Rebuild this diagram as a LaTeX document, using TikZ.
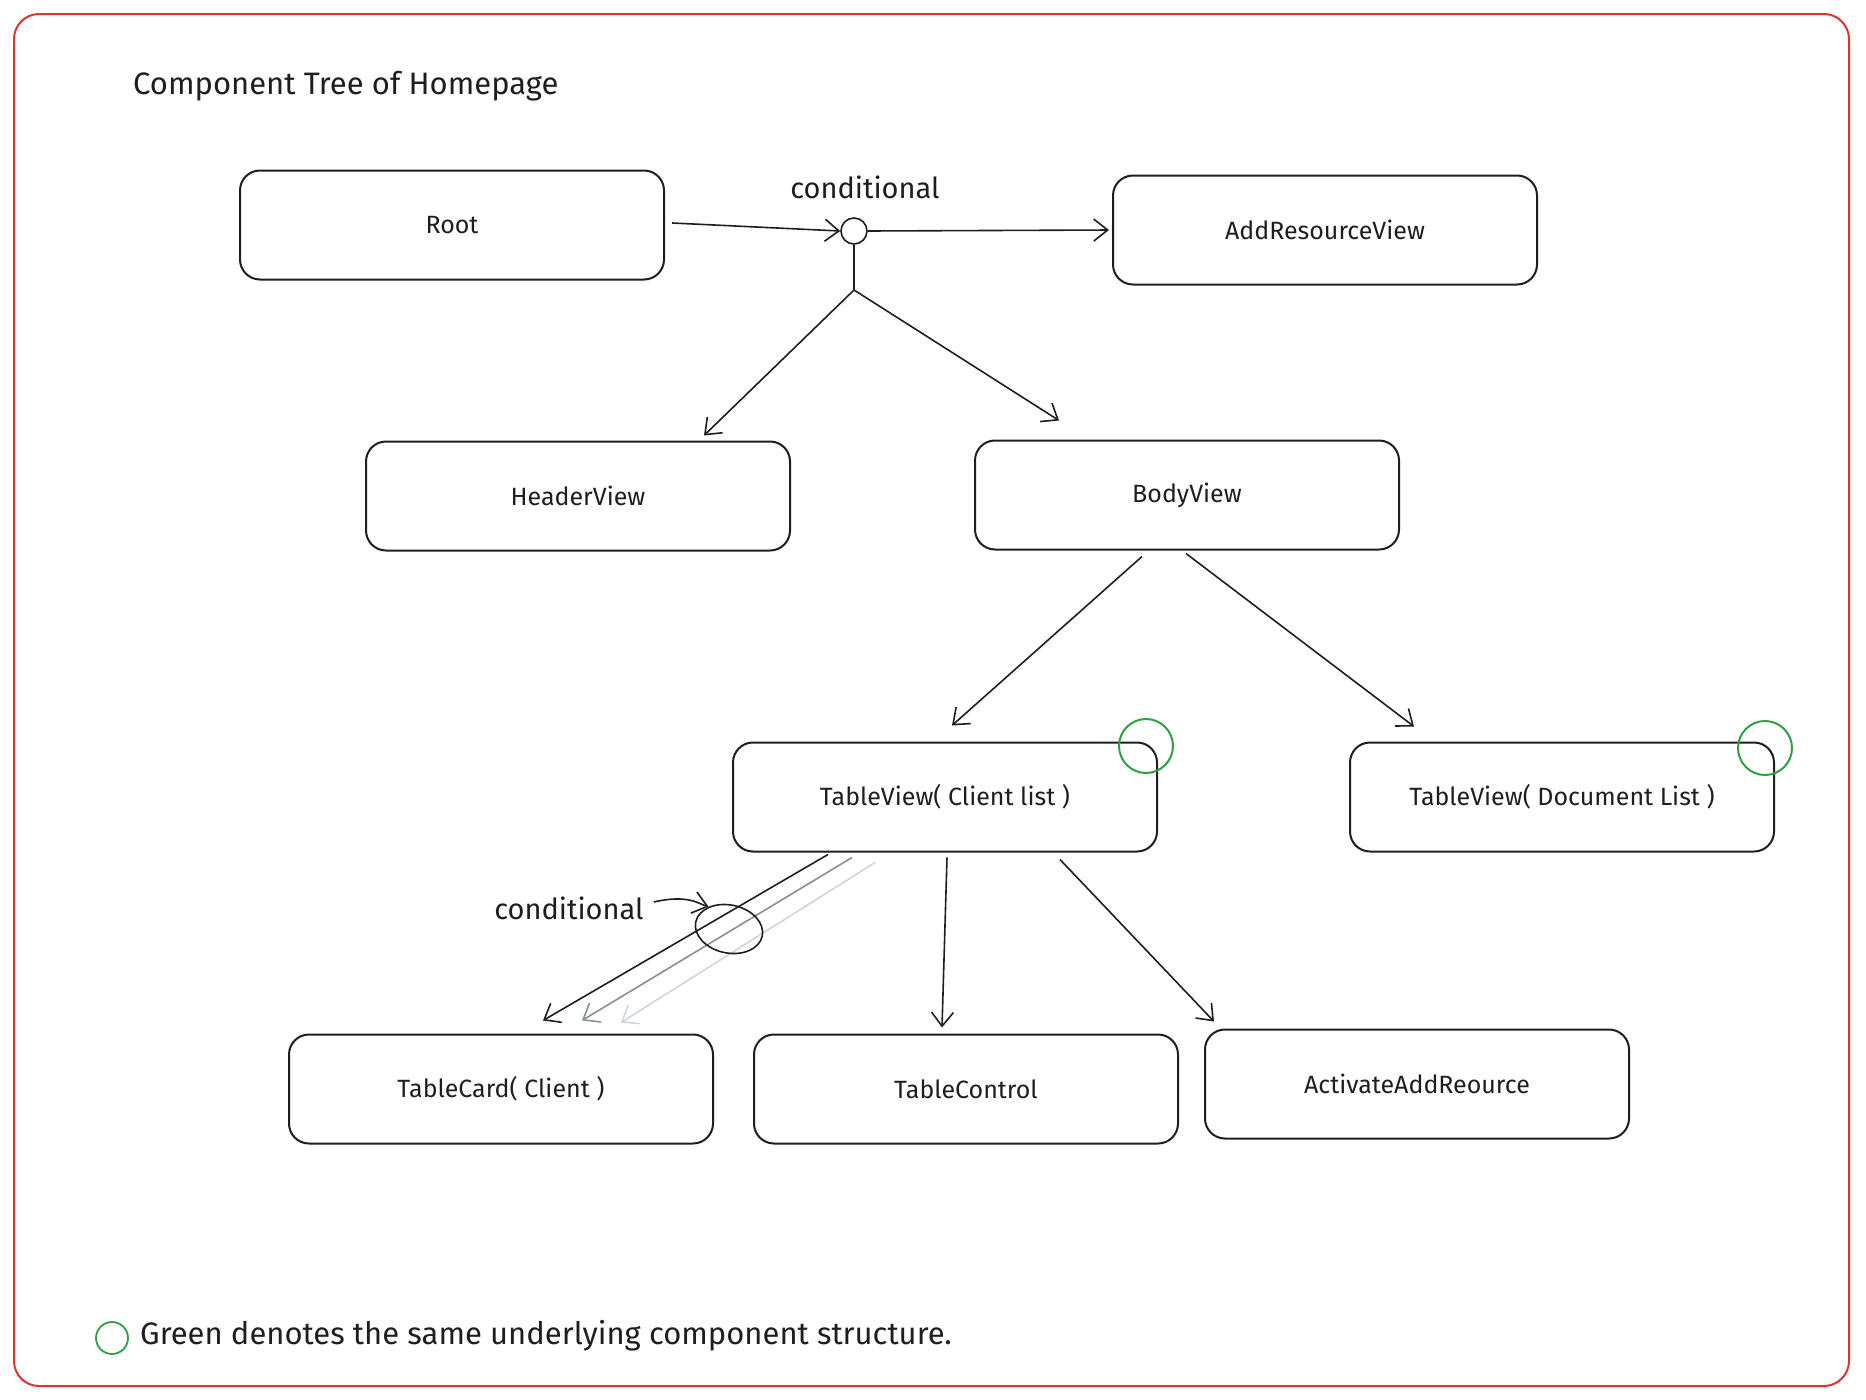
\documentclass[tikz,border=0pt]{standalone}
\usepackage{fontspec}
\setmainfont{Fira Sans}
\usetikzlibrary{arrows.meta,shapes.geometric,calc}
\definecolor{ink}{HTML}{1E1E1E}
\definecolor{framered}{HTML}{E03131}
\definecolor{markgreen}{HTML}{2F9E44}
\definecolor{midgray}{HTML}{868E96}
\definecolor{lightgray}{HTML}{CED4DA}
\begin{document}
\begin{tikzpicture}[x=1pt,y=-1pt,
  compbox/.style={draw=ink,line width=2pt,rounded corners=20pt,
    minimum width=424pt,minimum height=109pt,inner sep=0pt,
    font=\fontsize{25}{29}\selectfont,text=ink},
  link/.style={draw=ink,line width=1.6pt,-{Straight Barb[length=14pt,width=22pt,line width=1.6pt]}},
  plainlink/.style={draw=ink,line width=1.6pt},
  label/.style={font=\fontsize{29}{33}\selectfont,text=ink,inner sep=0pt},
  samemark/.style={draw=markgreen,line width=2pt}
]
% page and outer frame
\useasboundingbox (0,0) rectangle (1866,1400);
\draw[framered,line width=2pt,rounded corners=25pt] (14,14) rectangle (1849,1386);

% title
\node[label,anchor=west,font=\fontsize{31}{35}\selectfont] (title) at (133,86) {Component Tree of Homepage};

% components
\node[compbox] (root)   at (452,225)  {Root};
\node[compbox] (add)    at (1325,230) {AddResourceView};
\node[compbox] (header) at (578,496)  {HeaderView};
\node[compbox] (body)   at (1187,495) {BodyView};
\node[compbox] (tvc)    at (945,797)  {TableView( Client list )};
\node[compbox] (tvd)    at (1562,797) {TableView( Document List )};
\node[compbox] (card)   at (501,1089) {TableCard( Client )};
\node[compbox] (ctrl)   at (966,1089) {TableControl};
\node[compbox] (act)    at (1417,1084) {ActivateAddReource};

% conditional junction below the root
\node[circle,draw=ink,line width=1.6pt,minimum size=26pt,inner sep=0pt] (junc) at (854,231) {};
\coordinate (split) at (854,290);
\node[label] (cond1) at (865,187) {conditional};

\draw[link] ([xshift=7pt,yshift=2pt]root.east) -- (junc.west);
\draw[link,shorten >=3pt] (junc.east) -- (add.west);
\draw[plainlink] (junc.south) -- (split);
\draw[link] (split) -- ([xshift=126pt,yshift=5pt]header.north);
\draw[link] (split) -- ([xshift=-128pt,yshift=19pt]body.north);

% body view children
\draw[link] ([xshift=-45pt,yshift=-6pt]body.south) -- ([xshift=7pt,yshift=16pt]tvc.north);
\draw[link] ([xshift=-1pt,yshift=-3pt]body.south) -- ([xshift=-148pt,yshift=15pt]tvd.north);

% table view children: repeated cards
\draw[link,draw=lightgray,-{Straight Barb[length=14pt,width=22pt,line width=1.6pt]}]
  ([xshift=-70pt,yshift=-10pt]tvc.south) -- ([xshift=120pt,yshift=11pt]card.north);
\draw[link,draw=midgray,-{Straight Barb[length=14pt,width=22pt,line width=1.6pt]}]
  ([xshift=-93pt,yshift=-5pt]tvc.south) -- ([xshift=81pt,yshift=13pt]card.north);
\draw[link] ([xshift=-117pt,yshift=-2pt]tvc.south) -- ([xshift=42pt,yshift=13pt]card.north);
\draw[link] ([xshift=2pt,yshift=-5pt]tvc.south) -- ([xshift=-24pt,yshift=6pt]ctrl.north);
\draw[link] ([xshift=115pt,yshift=-7pt]tvc.south) -- ([xshift=-203pt,yshift=7pt]act.north);

% conditional marker on the card links
\node[ellipse,draw=ink,line width=1.6pt,minimum width=68pt,minimum height=48pt,
  inner sep=0pt,rotate=-12] (cond2mark) at (729,929) {};
\node[label] (cond2) at (569,908) {conditional};
\draw[link] ([xshift=10pt,yshift=6pt]cond2.east) .. controls (688,894) and (699,904) .. (cond2mark.north west);

% shared-structure marks
\draw[samemark] (1146,746) circle[radius=27];
\draw[samemark] (1765,748) circle[radius=27];

% legend
\draw[samemark,line width=1.8pt] (112,1338) circle[radius=16];
\node[label,anchor=west,font=\fontsize{31}{35}\selectfont] (legend) at (140,1336)
  {Green denotes the same underlying component structure.};
\end{tikzpicture}
\end{document}
